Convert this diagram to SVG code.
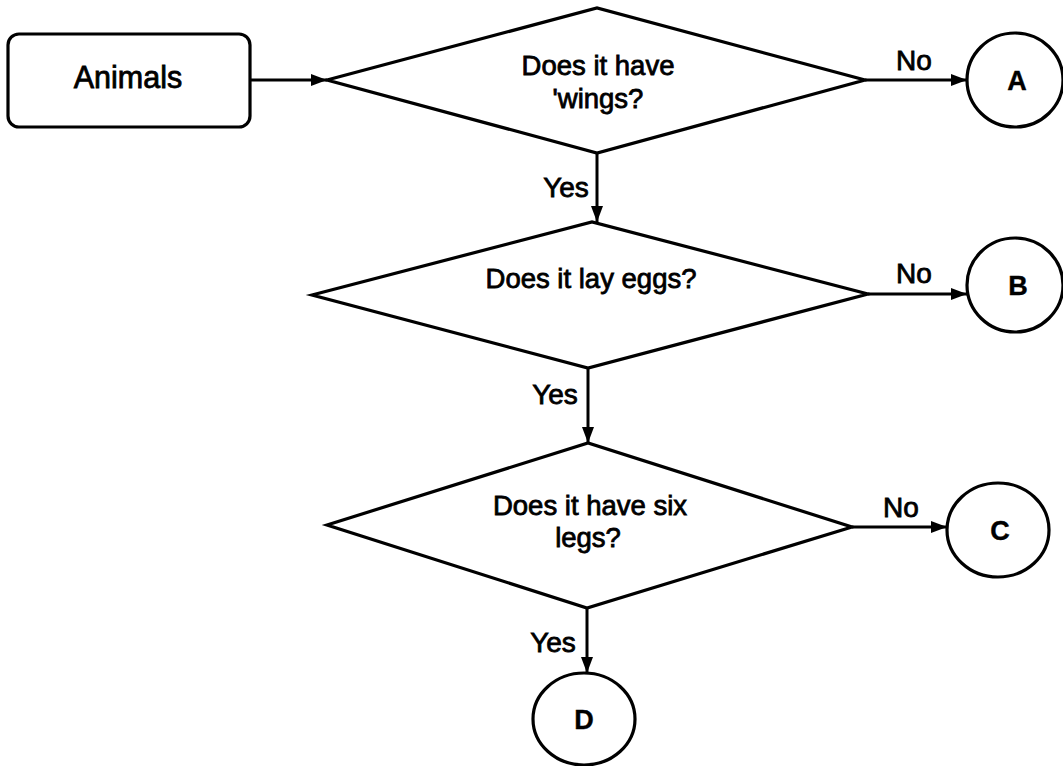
<svg xmlns="http://www.w3.org/2000/svg" width="1063" height="766" viewBox="0 0 1063 766">
<style>
.shape{fill:#fff;stroke:#000;stroke-width:3.2;stroke-linejoin:miter}
.line{fill:none;stroke:#000;stroke-width:3}
.t{font-family:"Liberation Sans",Arial,sans-serif;fill:#000;text-anchor:middle;stroke:#000;stroke-width:0.8}
.q{font-size:27.5px}
.lbl{font-size:28px}
.big{font-size:30.5px}
.let{font-size:27px;font-weight:bold;stroke-width:0.4}
</style>
<defs>
<marker id="ah" viewBox="0 0 16 12" refX="16" refY="6" markerWidth="16" markerHeight="12" markerUnits="userSpaceOnUse" orient="auto">
<path d="M0,0 L16,6 L0,12 Z" fill="#000"/>
</marker>
</defs>
<g id="connectors">
<line class="line" x1="250" y1="80" x2="327" y2="80" marker-end="url(#ah)"/>
<line class="line" x1="865" y1="80" x2="967" y2="80" marker-end="url(#ah)"/>
<line class="line" x1="597" y1="153" x2="597" y2="222" marker-end="url(#ah)"/>
<line class="line" x1="868" y1="294" x2="967" y2="294" marker-end="url(#ah)"/>
<line class="line" x1="588" y1="368" x2="588" y2="443" marker-end="url(#ah)"/>
<line class="line" x1="852" y1="527" x2="947" y2="527" marker-end="url(#ah)"/>
<line class="line" x1="587" y1="608" x2="587" y2="673" marker-end="url(#ah)"/>
<text class="t lbl" x="914" y="70">No</text>
<text class="t lbl" x="914" y="283">No</text>
<text class="t lbl" x="901" y="517">No</text>
<text class="t lbl" x="566" y="197">Yes</text>
<text class="t lbl" x="555" y="404">Yes</text>
<text class="t lbl" x="553" y="652">Yes</text>
</g>
<g id="animals">
<rect class="shape" x="8" y="34" width="242" height="93" rx="11"/>
<text class="t big" x="128" y="88">Animals</text>
</g>
<g id="q1">
<polygon class="shape" points="327,80 597,8 865,80 597,153"/>
<text class="t q" x="598" y="75">Does it have</text>
<text class="t q" x="598" y="108">'wings?</text>
</g>
<g id="q2">
<polygon class="shape" points="312,295 592,222 868,294 588,368"/>
<text class="t q" x="591" y="288">Does it lay eggs?</text>
</g>
<g id="q3">
<polygon class="shape" points="327,525 588,443 852,527 587,608"/>
<text class="t q" x="590" y="515">Does it have six</text>
<text class="t q" x="588" y="547">legs?</text>
</g>
<g id="A">
<ellipse class="shape" cx="1015" cy="80" rx="48" ry="47"/>
<text class="t let" x="1017" y="90">A</text>
</g>
<g id="B">
<ellipse class="shape" cx="1015" cy="285" rx="48" ry="47"/>
<text class="t let" x="1018" y="295">B</text>
</g>
<g id="C">
<ellipse class="shape" cx="998" cy="530" rx="51" ry="47"/>
<text class="t let" x="1000" y="540">C</text>
</g>
<g id="D">
<ellipse class="shape" cx="584" cy="719" rx="51" ry="46"/>
<text class="t let" x="584" y="729">D</text>
</g>
</svg>
